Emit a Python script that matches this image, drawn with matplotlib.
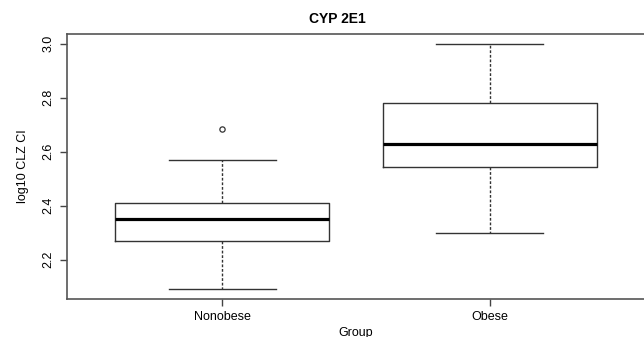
import matplotlib.pyplot as plt

plt.rcParams['font.family'] = ['Liberation Sans', 'DejaVu Sans']

# Boxplot statistics (log10 CLZ CI)
groups = ['Nonobese', 'Obese']
whisker_low = [2.09, 2.30]
q1 = [2.27, 2.545]
median = [2.35, 2.63]
q3 = [2.41, 2.78]
whisker_high = [2.57, 3.00]
outliers = [[2.685], []]

stats = []
for i, g in enumerate(groups):
    stats.append({
        'label': g, 'whislo': whisker_low[i], 'q1': q1[i], 'med': median[i],
        'q3': q3[i], 'whishi': whisker_high[i], 'fliers': outliers[i],
    })

fig = plt.figure(figsize=(6.44, 3.37), dpi=100)
ax = fig.add_axes([67 / 644, 1 - 299 / 337, 578 / 644, 265 / 337])

edge = '#333333'
ax.bxp(stats, positions=[1, 2], widths=0.8, patch_artist=False,
       boxprops=dict(color=edge, linewidth=1),
       medianprops=dict(color='black', linewidth=2.3),
       whiskerprops=dict(color=edge, linewidth=1, linestyle=(0, (2, 1.3))),
       capprops=dict(color=edge, linewidth=1),
       capwidths=0.4,
       flierprops=dict(marker='o', markersize=3.8, markerfacecolor='none',
                       markeredgecolor=edge, markeredgewidth=0.9))

ax.set_xlim(0.42, 2.58)
ax.set_ylim(2.0536, 3.0364)
ax.set_yticks([2.2, 2.4, 2.6, 2.8, 3.0])
ax.set_yticklabels(['2.2', '2.4', '2.6', '2.8', '3.0'], rotation=90, va='center')
ax.set_xticks([1, 2])
ax.set_xticklabels(groups)
ax.tick_params(axis='both', labelsize=9, color='#444444', length=5, width=1)
ax.tick_params(axis='y', pad=4)
for s in ax.spines.values():
    s.set_color('#555555')
    s.set_linewidth(1.2)

ax.set_ylabel('log10 CLZ CI', fontsize=9, labelpad=10)
ax.set_xlabel('Group', fontsize=9, labelpad=3)
fig.text(337 / 644, 1 - 19 / 337, 'CYP 2E1', fontsize=10, fontweight='bold',
         ha='center', va='center')

fig.savefig('out.png', dpi=100)
